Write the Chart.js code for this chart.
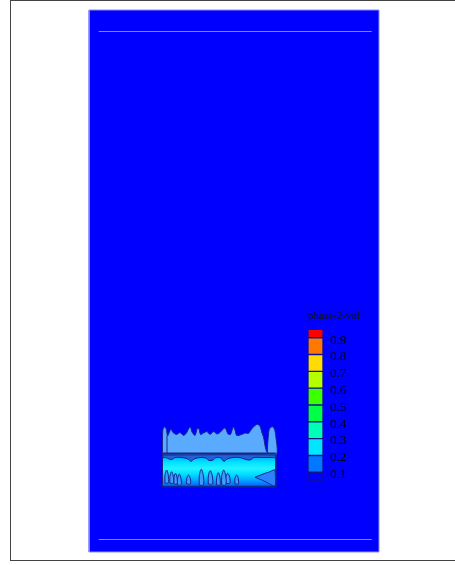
<!DOCTYPE html>
<html>
<head>
<meta charset="utf-8">
<script src="https://cdn.jsdelivr.net/npm/chart.js@4/dist/chart.umd.min.js"></script>
<style>
  html, body { margin: 0; padding: 0; background: #fff; width: 455px; height: 565px; overflow: hidden; }
  #frame { position: absolute; left: 10px; top: 0; width: 460px; height: 559px;
           border-left: 1px solid #444; border-top: 1px solid #444; border-bottom: 1px solid #444; }
  #field { position: absolute; left: 0; top: 0; }
  #colorbar { position: absolute; left: 308px; top: 305px; }
</style>
</head>
<body>
<div id="frame"></div>
<canvas id="field" width="455" height="565"></canvas>
<canvas id="colorbar" width="60" height="185"></canvas>
<script>
// ---- domain (mm): width x height ----
const domainWidth = 290;
const domainHeight = 542;

// interior guide lines (mm)
const guideX = [9.7, 282.7];
const guideY = [520.5, 12.5];

// tank walls and levels (mm)
const tankLeft = 73.5;
const tankRight = 186.8;
const tankBottom = 65;
const interfaceLevel = 97;

// free surface of the lighter phase, left wall -> right wall (x, y in mm)
const freeSurface = [
  [73.5, 112], [73.8, 122], [75.5, 125.2], [77.3, 123], [78.5, 116], [80, 119],
  [82, 123], [84, 119.5], [87.5, 117.5], [91, 119.5], [94.5, 116.5], [97.5, 119],
  [100, 124], [101.5, 125], [103, 120], [106, 116.5], [108.5, 124], [110, 123],
  [111.5, 117.5], [114.5, 119], [118, 120.5], [121, 117.5], [124.5, 120.5], [128, 118],
  [131, 119.5], [136, 124.2], [139, 118], [141.5, 117.5], [144.3, 125.2], [146, 122],
  [147.7, 116.5], [152.7, 117.5], [156, 119], [159.3, 118.5], [162, 122], [164.3, 125],
  [167.7, 127.5], [170, 127], [171.5, 124.5], [173, 119], [174.5, 115], [176.5, 104],
  [178, 100], [179, 112], [180, 122], [181.5, 124.5], [183.5, 125.2], [185.5, 123],
  [186.8, 116]
];

// underside of the interface layer, left -> right (x, y in mm)
const interfaceUnderside = [
  [77, 94.5], [80, 93], [83, 92.5], [86, 94.5], [93, 94.5], [99, 93], [102, 90.5],
  [105, 93], [111, 94.5], [117, 94], [120, 91.5], [124, 92], [127, 94.5], [132, 94],
  [135, 90.5], [138, 93], [144, 94.5], [151, 94.5], [157, 92.5], [161, 92], [165, 94.5],
  [173, 94.5], [183, 94.5]
];

// rising bubble columns near the bottom (mm)
const bubbleX    = [77.6, 82.6, 86.5, 90.3, 99.5, 112.3, 121.3, 129.3, 134.7, 138.7, 147.6];
const bubbleW    = [3.3, 3.3, 3.0, 3.3, 3.6, 4.0, 4.0, 3.3, 4.0, 4.0, 3.3];
const bubbleBase = [69, 68.7, 68, 67, 68, 67, 68, 67, 67, 68.7, 68];
const bubbleTop  = [82, 80.3, 78.7, 78, 77, 82.7, 81.3, 79.3, 82, 78.7, 77];

// pocket along the right wall (mm)
const wallPocket = [
  [166, 74.7], [176, 78.7], [181, 80.3], [184.3, 82], [186, 82], [186, 66],
  [177, 70], [172.7, 72], [166, 74.7]
];

// colour map levels of phase-2-vof
const vofEdges  = [0.05, 0.1, 0.2, 0.3, 0.4, 0.5, 0.6, 0.7, 0.8, 0.9, 0.95];
const vofColors = ['#0000ff', '#0078ff', '#00e6ff', '#00ffb4', '#00ff46',
                   '#3cff00', '#b4ff00', '#ffdc00', '#ff7800', '#ff0000'];
const vofTicks  = [0.1, 0.2, 0.3, 0.4, 0.5, 0.6, 0.7, 0.8, 0.9];

const NAVY = '#14288c';
const pts = arr => arr.map(([x, y]) => ({ x, y }));

function shape(points, fillColor, stroke, width, order, tension) {
  return {
    data: pts(points), showLine: true, fill: fillColor ? 'shape' : false,
    backgroundColor: fillColor || 'transparent', borderColor: stroke || 'transparent',
    borderWidth: width || 0, pointRadius: 0, tension: tension || 0, order, clip: false
  };
}

// vertical shading of the liquid column between interface and bottom
function liquidGradient(ctx) {
  const chart = ctx.chart;
  if (!chart.chartArea) return '#00e6ff';
  const ys = chart.scales.y;
  const g = chart.ctx.createLinearGradient(0, ys.getPixelForValue(interfaceLevel), 0, ys.getPixelForValue(tankBottom));
  g.addColorStop(0.00, '#1e6eff');
  g.addColorStop(0.08, '#00b4ff');
  g.addColorStop(0.22, '#00e0ff');
  g.addColorStop(0.42, '#20f4ff');
  g.addColorStop(0.60, '#00e0ff');
  g.addColorStop(0.76, '#00b0ff');
  g.addColorStop(0.90, '#0a78ff');
  g.addColorStop(1.00, '#1450dc');
  return g;
}

const datasets = [];
// flow domain
datasets.push(shape([[0, 0], [domainWidth, 0], [domainWidth, domainHeight], [0, domainHeight], [0, 0]],
  '#0000ff', '#8c8cff', 1, 100));
// guide lines
guideY.forEach(y => datasets.push(shape([[guideX[0], y], [guideX[1], y]], null, '#8282ff', 1, 90)));
// liquid column
const liquid = shape([[tankLeft, interfaceLevel], [tankRight, interfaceLevel], [tankRight, tankBottom],
  [tankLeft, tankBottom], [tankLeft, interfaceLevel]], '#00e6ff', NAVY, 1, 60);
liquid.backgroundColor = liquidGradient;
datasets.push(liquid);
// upper region above the interface
datasets.push(shape([[tankLeft, interfaceLevel], ...freeSurface, [tankRight, interfaceLevel], [tankLeft, interfaceLevel]],
  '#5aaaff', NAVY, 1, 50, 0.2));
// interface layer with hanging drips
datasets.push(shape([[tankLeft + 0.5, interfaceLevel], [tankRight - 0.5, interfaceLevel], [tankRight - 0.5, 94.5],
  ...interfaceUnderside.slice().reverse(), [tankLeft + 0.5, 94.5], [tankLeft + 0.5, interfaceLevel]],
  '#2060dc', NAVY, 1, 45, 0.3));
// pocket on the right wall
datasets.push(shape(wallPocket, '#2a82ff', NAVY, 1, 40, 0.2));
// bubble columns
bubbleX.forEach((cx, i) => {
  const h = bubbleTop[i] - bubbleBase[i], w = bubbleW[i] / 2, mid = bubbleBase[i] + h * 0.6;
  datasets.push(shape([[cx - w, bubbleBase[i]], [cx - w, mid], [cx, bubbleTop[i]], [cx + w, mid],
    [cx + w, bubbleBase[i]], [cx - w, bubbleBase[i]]], '#3c9cff', NAVY, 1, 30, 0.35));
});
// interface line, wall seams, bottom
datasets.push(shape([[tankLeft, interfaceLevel + 1.5], [tankRight, interfaceLevel + 1.5]], null, NAVY, 2, 10));
datasets.push(shape([[78, interfaceLevel + 2], [78, 116]], null, NAVY, 1, 10));
datasets.push(shape([[178.5, interfaceLevel + 2], [178.5, 106]], null, NAVY, 1, 10));
datasets.push(shape([[tankLeft, tankBottom + 0.5], [tankRight, tankBottom + 0.5]], null, '#0a2896', 1.5, 5));

new Chart(document.getElementById('field'), {
  type: 'scatter',
  data: { datasets },
  options: {
    responsive: false, animation: false, events: [],
    layout: { padding: { left: 89, right: 76, top: 10, bottom: 13 } },
    plugins: { legend: { display: false }, tooltip: { enabled: false } },
    scales: {
      x: { type: 'linear', min: 0, max: domainWidth, display: false },
      y: { type: 'linear', min: 0, max: domainHeight, display: false }
    }
  }
});

// colour bar
new Chart(document.getElementById('colorbar'), {
  type: 'bar',
  data: {
    labels: ['phase-2-vof'],
    datasets: vofColors.map((c, i) => ({
      data: [[vofEdges[i], vofEdges[i + 1]]],
      backgroundColor: c, borderColor: 'rgba(30,30,80,0.55)', borderWidth: 1,
      borderSkipped: false, grouped: false, barPercentage: 1, categoryPercentage: 1
    }))
  },
  options: {
    responsive: false, animation: false, events: [],
    layout: { padding: { left: 0, right: 0, top: 0, bottom: 9.3 } },
    plugins: {
      legend: { display: false }, tooltip: { enabled: false },
      title: {
        display: true, text: 'phase-2-vof', align: 'start', color: '#111',
        font: { family: '"Liberation Serif", "Times New Roman", serif', size: 11, weight: 'normal' },
        padding: { top: 4.7, bottom: 6.4 }
      }
    },
    scales: {
      x: { display: false },
      y: {
        position: 'right', min: 0.05, max: 0.95,
        grid: { display: false, drawTicks: false }, border: { display: false },
        ticks: {
          color: '#000', padding: 7, labelOffset: 2.4,
          font: { family: '"Liberation Serif", "Times New Roman", serif', size: 13 },
          callback: v => Number(v).toFixed(1)
        },
        afterBuildTicks: s => { s.ticks = vofTicks.map(v => ({ value: v })); },
        afterFit: s => { s.width = 45; s.paddingTop = 0; s.paddingBottom = 0; }
      }
    }
  }
});
</script>
</body>
</html>
